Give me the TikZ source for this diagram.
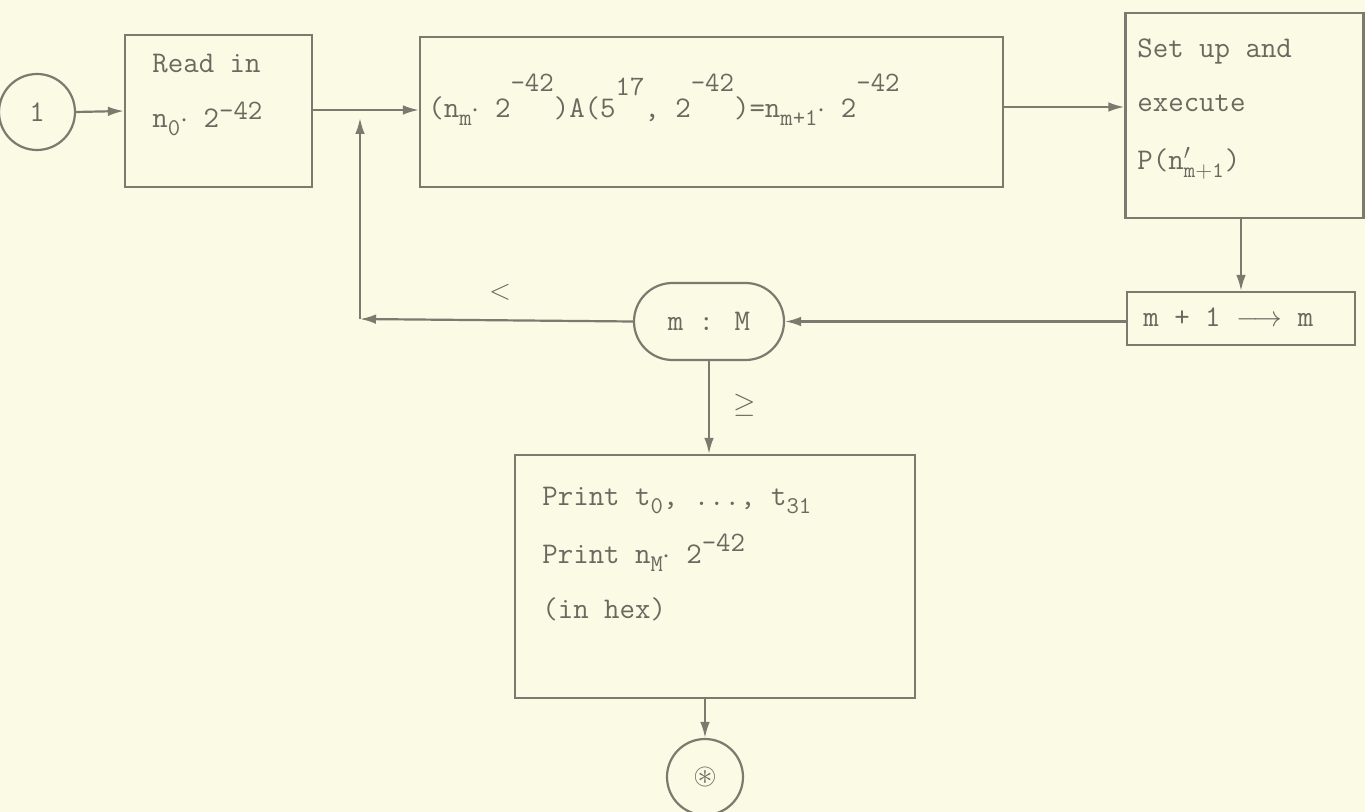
\documentclass[tikz,border=0pt]{standalone}
\usepackage{amssymb}
\usetikzlibrary{arrows.meta,shapes.misc}
\definecolor{paper}{RGB}{251,250,229}
\definecolor{ink}{RGB}{122,122,110}
\definecolor{txt}{RGB}{105,105,95}
\newcommand{\hi}[2][6pt]{\raisebox{#1}{\fontsize{14}{15}\selectfont #2}}
\newcommand{\lo}[1]{\raisebox{-4pt}{\fontsize{12}{13}\selectfont #1}}
\begin{document}
\begin{tikzpicture}[x=0.5pt,y=-0.5pt,
  box/.style={draw=ink,line width=1.1pt,rectangle,inner sep=0pt},
  conn/.style={draw=ink,line width=1.1pt},
  arr/.style={conn,-{Latex[length=8pt,width=4.8pt]}},
  lbl/.style={text=txt,font=\fontsize{15}{18}\selectfont\ttfamily,inner sep=0pt,anchor=base west},
  clbl/.style={text=txt,font=\fontsize{15}{18}\selectfont\ttfamily,inner sep=0pt},
  term/.style={draw=ink,line width=1.1pt,circle,inner sep=0pt,minimum size=38pt},
  oval/.style={draw=ink,line width=1.1pt,rounded rectangle,inner sep=0pt,minimum width=75pt,minimum height=38.5pt},
]
\fill[paper] (0,0) rectangle (1365,812);
\useasboundingbox (0,0) rectangle (1365,812);

% nodes
\node[term] (start) at (37,112) {};
\node[clbl] at (start.center) {1};
\node[box,minimum width=93.5pt,minimum height=76pt] (read) at (218.5,111) {};
\node[box,minimum width=291.5pt,minimum height=75pt] (calc) at (711.5,112) {};
\node[box,minimum width=119pt,minimum height=102.5pt] (setup) at (1244.5,115.5) {};
\node[box,minimum width=114pt,minimum height=26.5pt] (incr) at (1241,318.5) {};
\node[oval] (test) at (709,321.5) {};
\node[box,minimum width=200pt,minimum height=121.5pt] (print) at (715,576.5) {};
\node[term] (stop) at (705,777) {};

% texts
\node[lbl] at (152,73) {Read in};
\node[lbl] at (152,128) {n\lo{0}$\cdot$ 2\hi[4pt]{-42}};
\node[lbl] at (428,118) {(n\lo{m}$\cdot$ 2\hi[13pt]{-42})A(5\hi[11pt]{17}, 2\hi[13pt]{-42})=n\lo{m+1}$\cdot$ 2\hi[13pt]{-42}};
\node[lbl] at (1137,58) {Set up and};
\node[lbl] at (1137,112) {execute};
\node[lbl] at (1137,170) {P(n$'_{\mathtt{m+1}}$)};
\node[lbl] at (1143,327) {m + 1 $\longrightarrow$ m};
\node[clbl] at (test.center) {m : M};
\node[lbl] at (542,505) {Print t\lo{0}, ..., t\lo{31}};
\node[lbl] at (542,563) {Print n\lo{M}$\cdot$ 2\hi[6pt]{-42}};
\node[lbl] at (542,618) {(in hex)};
\node[clbl,font=\fontsize{15}{16}\selectfont] at (stop.center) {$\circledast$};
\node[clbl] at (500,292) {$<$};
\node[clbl] at (745,405) {$\geq$};

% connectors
\coordinate (join) at (360,110);
\coordinate (corner) at (360,319);
\draw[arr] (start.east) -- (read.west);
\draw[arr] (read.east |- join) -- (calc.west |- join);
\draw[arr] (calc.east |- 0,107) -- (setup.west |- 0,107);
\draw[arr] (setup.south -| incr.north) -- (incr.north);
\draw[arr] (incr.west |- test.east) -- (test.east);
\draw[arr] (test.west) -- (corner);
\draw[arr,shorten >=4pt] (corner) -- (join);
\draw[arr] (test.south) -- (test.south |- print.north);
\draw[arr] (print.south -| stop.north) -- (stop.north);
\end{tikzpicture}
\end{document}
